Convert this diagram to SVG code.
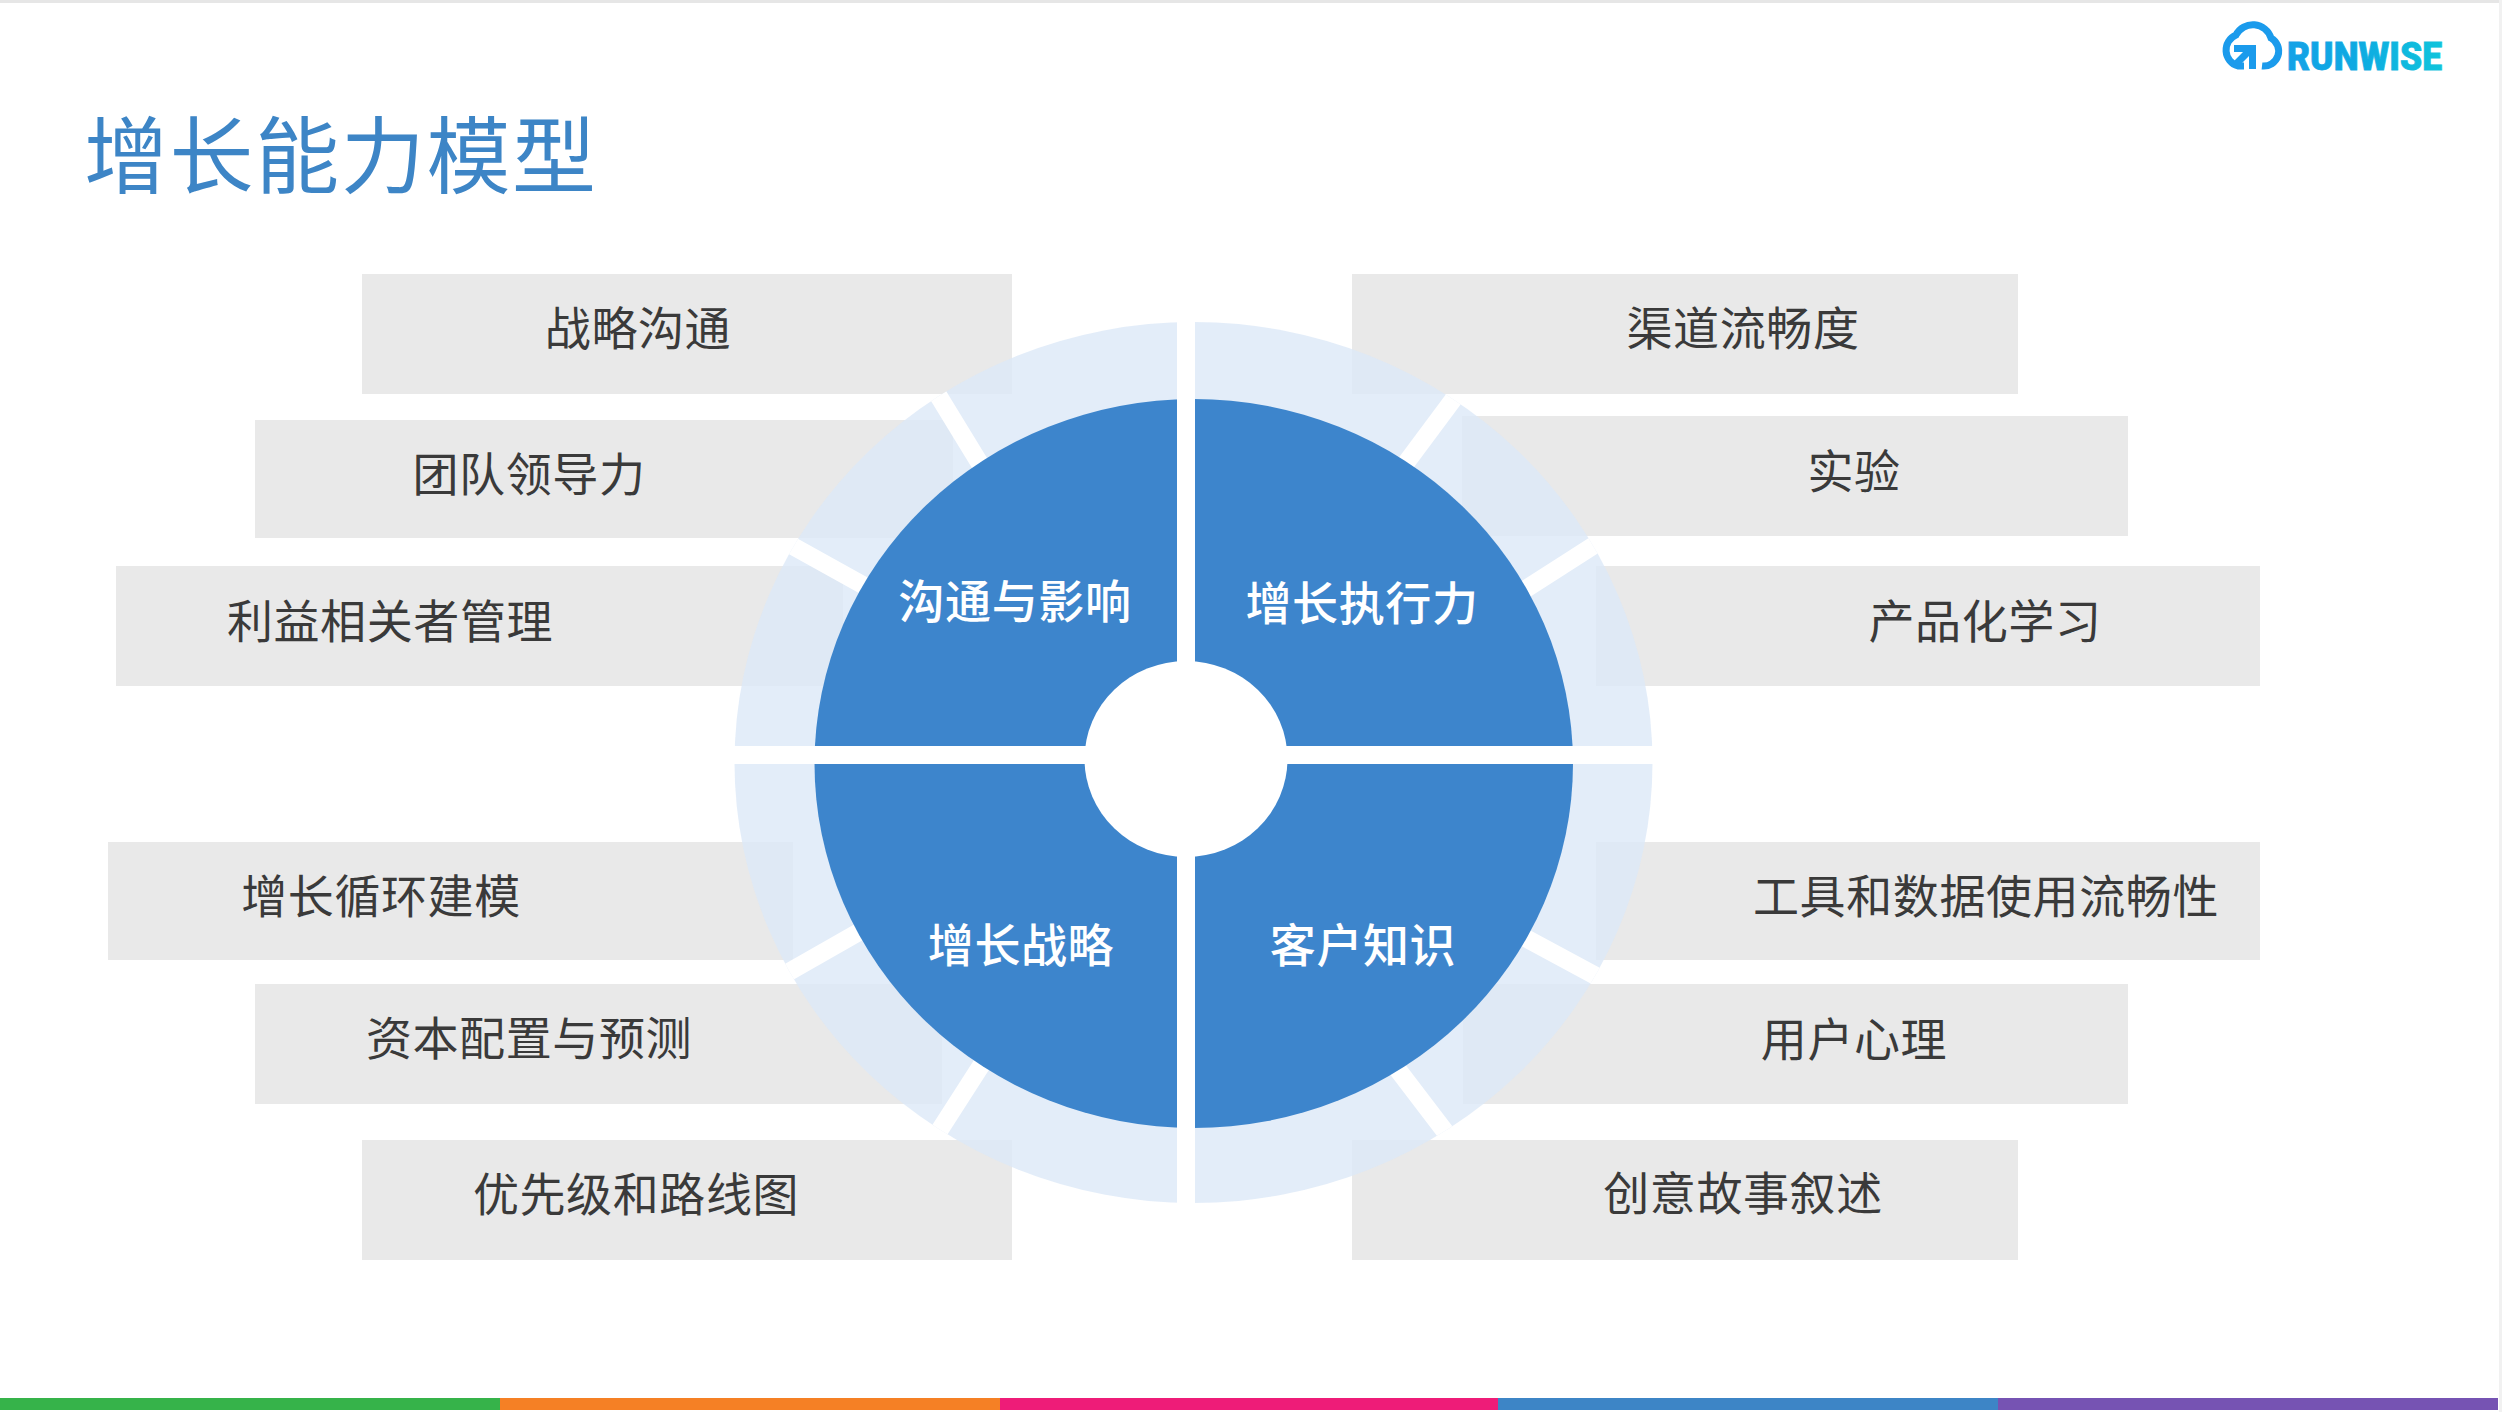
<svg xmlns="http://www.w3.org/2000/svg" width="2502" height="1412" viewBox="0 0 2502 1412">
<style>
.box{fill:#e9e9e9}
.lbl{font-family:"Noto Sans CJK SC","Noto Sans",sans-serif;font-size:46px;fill:#3a3a3a;text-anchor:middle;letter-spacing:.6px}
.core{font-family:"Noto Sans CJK SC","Noto Sans",sans-serif;font-size:46px;font-weight:500;fill:#fff;text-anchor:middle;letter-spacing:.6px}
.spoke{stroke:#fff;stroke-width:18;fill:none}
</style>
<defs>
<linearGradient id="logoGrad" gradientUnits="userSpaceOnUse" x1="2220" y1="0" x2="2442" y2="0"><stop offset="0" stop-color="#1b9bec"/><stop offset="0.6" stop-color="#0ea9e2"/><stop offset="1" stop-color="#10c4dc"/></linearGradient>
<clipPath id="ringClip"><ellipse cx="1193.5" cy="762.5" rx="459" ry="440.5"/></clipPath>
</defs>
<rect width="2502" height="1412" fill="#fff"/>
<rect x="0" y="0" width="2502" height="3" fill="#e6e6e6"/>
<rect x="2499" y="0" width="3" height="1412" fill="#f1f1f1"/>
<g id="title"><text x="84" y="187" font-family="'Noto Sans CJK SC','Noto Sans',sans-serif" font-size="84" fill="#3d85c6" letter-spacing="1.6">增长能力模型</text></g>
<g id="logo">
<path d="M2244 66 H2238 A16.500 16.500 0 0 1 2236 35 A19 19 0 0 1 2271 38 A15 15 0 0 1 2262 66" fill="none" stroke="#1b9bec" stroke-width="7"/>
<path d="M2234 45 L2256 45 L2256 69 L2249 69 L2249 56 L2238 67 L2233 62 L2243 52 L2234 52 Z" fill="#1b9bec"/>
<text x="2287" y="70" font-family="Roboto,'Liberation Sans',sans-serif" font-weight="900" font-size="38" textLength="155" lengthAdjust="spacingAndGlyphs" fill="url(#logoGrad)" stroke="url(#logoGrad)" stroke-width="0.8">RUNWISE</text>
</g>
<g id="boxes">
<g id="b1"><rect class="box" x="362" y="274" width="650" height="120"/><text class="lbl" x="638" y="345">战略沟通</text></g>
<g id="b2"><rect class="box" x="255" y="420" width="698" height="118"/><text class="lbl" x="529" y="491">团队领导力</text></g>
<g id="b3"><rect class="box" x="116" y="566" width="727" height="120"/><text class="lbl" x="390" y="638">利益相关者管理</text></g>
<g id="b4"><rect class="box" x="108" y="842" width="685" height="118"/><text class="lbl" x="381" y="913">增长循环建模</text></g>
<g id="b5"><rect class="box" x="255" y="984" width="687" height="120"/><text class="lbl" x="529" y="1055">资本配置与预测</text></g>
<g id="b6"><rect class="box" x="362" y="1140" width="650" height="120"/><text class="lbl" x="636" y="1211">优先级和路线图</text></g>
<g id="b7"><rect class="box" x="1352" y="274" width="666" height="120"/><text class="lbl" x="1743" y="345">渠道流畅度</text></g>
<g id="b8"><rect class="box" x="1462" y="416" width="666" height="120"/><text class="lbl" x="1854" y="488">实验</text></g>
<g id="b9"><rect class="box" x="1596" y="566" width="664" height="120"/><text class="lbl" x="1985" y="638">产品化学习</text></g>
<g id="b10"><rect class="box" x="1596" y="842" width="664" height="118"/><text class="lbl" x="1986" y="913">工具和数据使用流畅性</text></g>
<g id="b11"><rect class="box" x="1463" y="984" width="665" height="120"/><text class="lbl" x="1854" y="1056">用户心理</text></g>
<g id="b12"><rect class="box" x="1352" y="1140" width="666" height="120"/><text class="lbl" x="1743" y="1210">创意故事叙述</text></g>
</g>
<g id="wheel">
<ellipse id="ring" cx="1193.5" cy="762.5" rx="459" ry="440.5" fill="#dce9f7" opacity="0.8"/>
<g id="spokes" clip-path="url(#ringClip)">
<path class="spoke" d="M985 472L930 382"/>
<path class="spoke" d="M870 589L780 539"/>
<path class="spoke" d="M1400 471L1464 385"/>
<path class="spoke" d="M1518 594L1610 535"/>
<path class="spoke" d="M880 920L780 977"/>
<path class="spoke" d="M984 1061L932 1142"/>
<path class="spoke" d="M1518 934L1607 982"/>
<path class="spoke" d="M1392 1062L1453 1142"/>
</g>
<ellipse id="core" cx="1193.75" cy="763.5" rx="379.25" ry="364.5" fill="#3d85cc"/>
<ellipse id="hub" cx="1186" cy="759" rx="101.5" ry="98" fill="#fff"/>
<rect x="1177" y="300" width="18" height="930" fill="#fff"/>
<rect x="710" y="746" width="970" height="18" fill="#fff"/>
</g>
<g id="q1"><text class="core" x="1015" y="618">沟通与影响</text></g>
<g id="q2"><text class="core" x="1362" y="620">增长执行力</text></g>
<g id="q3"><text class="core" x="1021" y="962">增长战略</text></g>
<g id="q4"><text class="core" x="1363" y="962">客户知识</text></g>
<g id="stripes">
<rect x="0" y="1398" width="500" height="12" fill="#36b34a"/>
<rect x="500" y="1398" width="500" height="12" fill="#f58025"/>
<rect x="1000" y="1398" width="498" height="12" fill="#ee1c78"/>
<rect x="1498" y="1398" width="500" height="12" fill="#3d85c6"/>
<rect x="1998" y="1398" width="500" height="12" fill="#7653b3"/>
</g>
</svg>
